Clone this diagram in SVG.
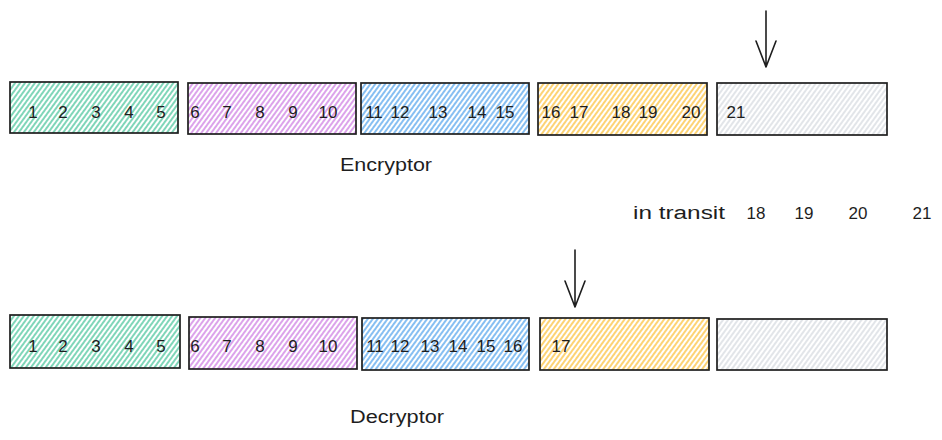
<svg xmlns="http://www.w3.org/2000/svg" width="942" height="440" viewBox="0 0 942 440">
<defs>
<pattern id="hg" patternUnits="userSpaceOnUse" width="4" height="10" patternTransform="rotate(36)"><line x1="1" y1="0" x2="1" y2="10" stroke="#55c9a2" stroke-width="1.5"/></pattern>
<pattern id="hp" patternUnits="userSpaceOnUse" width="4" height="10" patternTransform="rotate(36)"><line x1="1" y1="0" x2="1" y2="10" stroke="#d184e4" stroke-width="1.5"/></pattern>
<pattern id="hb" patternUnits="userSpaceOnUse" width="4" height="10" patternTransform="rotate(36)"><line x1="1" y1="0" x2="1" y2="10" stroke="#5eaaee" stroke-width="1.5"/></pattern>
<pattern id="hy" patternUnits="userSpaceOnUse" width="4" height="10" patternTransform="rotate(36)"><line x1="1" y1="0" x2="1" y2="10" stroke="#fcc447" stroke-width="1.5"/></pattern>
<pattern id="hx" patternUnits="userSpaceOnUse" width="4" height="10" patternTransform="rotate(36)"><line x1="1" y1="0" x2="1" y2="10" stroke="#d9dde2" stroke-width="1.5"/></pattern>
</defs>
<style>
.box{stroke:#1e1e1e;stroke-width:1.7}
.t{font-family:"Liberation Sans",Arial,sans-serif;font-size:17px;fill:#1e1e1e;text-anchor:middle}
.lbl{font-family:"Liberation Sans",Arial,sans-serif;font-size:18px;fill:#1e1e1e}
.arr{stroke:#1e1e1e;stroke-width:1.6;fill:none;stroke-linecap:round;stroke-linejoin:round}
</style>
<g id="enc-green"><rect class="box" x="10" y="82" width="168" height="51" fill="url(#hg)"/>
<text class="t" x="33" y="118">1</text><text class="t" x="63" y="118">2</text><text class="t" x="96" y="118">3</text><text class="t" x="129" y="118">4</text><text class="t" x="161" y="118">5</text></g>
<g id="enc-purple"><rect class="box" x="188" y="83" width="168" height="51" fill="url(#hp)"/>
<text class="t" x="195" y="118">6</text><text class="t" x="227" y="118">7</text><text class="t" x="260" y="118">8</text><text class="t" x="293" y="118">9</text><text class="t" x="328" y="118">10</text></g>
<g id="enc-blue"><rect class="box" x="361" y="83" width="168" height="51" fill="url(#hb)"/>
<text class="t" x="374" y="118">11</text><text class="t" x="400" y="118">12</text><text class="t" x="438" y="118">13</text><text class="t" x="477" y="118">14</text><text class="t" x="505" y="118">15</text></g>
<g id="enc-yellow"><rect class="box" x="538" y="83" width="169" height="52" fill="url(#hy)"/>
<text class="t" x="551" y="118">16</text><text class="t" x="579" y="118">17</text><text class="t" x="621" y="118">18</text><text class="t" x="648" y="118">19</text><text class="t" x="691" y="118">20</text></g>
<g id="enc-gray"><rect class="box" x="717" y="83" width="170" height="52" fill="url(#hx)"/>
<text class="t" x="736" y="118">21</text></g>
<g id="encryptor"><text class="lbl" x="340" y="171" textLength="92" lengthAdjust="spacingAndGlyphs">Encryptor</text></g>
<g id="transit"><text class="lbl" x="633" y="219" textLength="92" lengthAdjust="spacingAndGlyphs">in transit</text>
<text class="t" x="756" y="219">18</text><text class="t" x="804" y="219">19</text><text class="t" x="858" y="219">20</text><text class="t" x="922" y="219">21</text></g>
<g id="dec-green"><rect class="box" x="10" y="315" width="170" height="53" fill="url(#hg)"/>
<text class="t" x="33" y="352">1</text><text class="t" x="63" y="352">2</text><text class="t" x="96" y="352">3</text><text class="t" x="129" y="352">4</text><text class="t" x="161" y="352">5</text></g>
<g id="dec-purple"><rect class="box" x="189" y="317" width="168" height="52" fill="url(#hp)"/>
<text class="t" x="195" y="352">6</text><text class="t" x="227" y="352">7</text><text class="t" x="260" y="352">8</text><text class="t" x="293" y="352">9</text><text class="t" x="328" y="352">10</text></g>
<g id="dec-blue"><rect class="box" x="362" y="318" width="167" height="52" fill="url(#hb)"/>
<text class="t" x="375" y="352">11</text><text class="t" x="400" y="352">12</text><text class="t" x="430" y="352">13</text><text class="t" x="458" y="352">14</text><text class="t" x="486" y="352">15</text><text class="t" x="513" y="352">16</text></g>
<g id="dec-yellow"><rect class="box" x="540" y="318" width="169" height="52" fill="url(#hy)"/>
<text class="t" x="561" y="352">17</text></g>
<g id="dec-gray"><rect class="box" x="717" y="319" width="170" height="51" fill="url(#hx)"/></g>
<g id="decryptor"><text class="lbl" x="350" y="423" textLength="94" lengthAdjust="spacingAndGlyphs">Decryptor</text></g>
<g id="connectors">
<path class="arr" d="M766 11 L766 67 M756 41 L766 67 L776 41"/>
<path class="arr" d="M575 250 L575 307 M565 281 L575 307 L585 281"/>
</g>
</svg>
